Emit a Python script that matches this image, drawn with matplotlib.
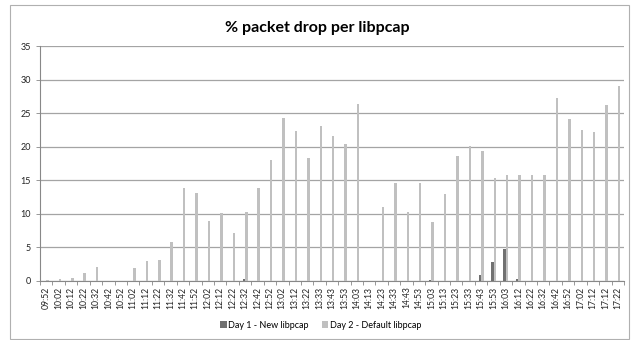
import numpy as np
import matplotlib.pyplot as plt
from matplotlib.patches import Rectangle

plt.rcParams['font.family'] = ['Lato', 'DejaVu Sans']

times = ['09:52', '10:02', '10:12', '10:22', '10:32', '10:42', '10:52', '11:02', '11:12', '11:22',
         '11:32', '11:42', '11:52', '12:02', '12:12', '12:22', '12:32', '12:42', '12:52', '13:02',
         '13:12', '13:22', '13:33', '13:43', '13:53', '14:03', '14:13', '14:23', '14:33', '14:43',
         '14:53', '15:03', '15:13', '15:23', '15:33', '15:43', '15:53', '16:03', '16:12', '16:22',
         '16:32', '16:42', '16:52', '17:02', '17:12', '17:12', '17:22']

day1 = [0.05, 0.05, 0.05, 0.05, 0.05, 0, 0, 0.05, 0.05, 0.05,
        0.05, 0.05, 0.05, 0.05, 0.05, 0.05, 0.25, 0.05, 0.05, 0.05,
        0.05, 0.05, 0.05, 0.05, 0.05, 0.05, 0, 0.05, 0.05, 0.05,
        0.05, 0.1, 0.05, 0.05, 0.05, 0.85, 2.9, 4.7, 0.25, 0.05,
        0.05, 0.05, 0.05, 0.05, 0.05, 0.05, 0.05]

day2 = [0.1, 0.3, 0.4, 1.2, 2.1, 0, 0, 1.9, 3.0, 3.2,
        5.8, 13.9, 13.1, 9.0, 10.2, 7.2, 10.35, 13.9, 18.0, 24.35,
        22.3, 18.3, 23.15, 21.6, 20.4, 26.3, 0, 11.0, 14.65, 10.3,
        14.65, 8.85, 12.95, 18.55, 20.1, 19.4, 15.4, 15.85, 15.85, 15.85,
        15.85, 27.25, 24.1, 22.5, 22.2, 26.2, 29.1]

x = np.arange(len(times))

fig = plt.figure(figsize=(6.35, 3.4), dpi=100)
ax = fig.add_axes([40 / 635, 1 - 281 / 340, 584 / 635, 235 / 340])

ax.bar(x - 0.1, day1, width=0.2, color='#707070', label='Day 1 - New libpcap', zorder=3)
ax.bar(x + 0.1, day2, width=0.2, color='#c0c0c0', label='Day 2 - Default libpcap', zorder=3)

ax.set_xlim(-0.5, len(times) - 0.5)
ax.set_ylim(0, 35)
ax.set_yticks(range(0, 36, 5))
ax.tick_params(axis='y', labelsize=6.5, length=3, color='#888888', labelcolor='#222222', width=0.6)
ax.yaxis.grid(True, color='#a4a4a4', linewidth=0.9, zorder=0)

ax.set_xticks(x)
ax.set_xticklabels(times, rotation=90, fontsize=6.2, color='#222222')
ax.set_xticks(np.arange(-0.5, len(times), 1), minor=True)
ax.tick_params(axis='x', which='major', length=0, pad=4)
ax.tick_params(axis='x', which='minor', length=3, color='#888888', width=0.6)

for s in ['top', 'right']:
    ax.spines[s].set_visible(False)
for s in ['left', 'bottom']:
    ax.spines[s].set_color('#888888')
    ax.spines[s].set_linewidth(0.8)

fig.text(0.5, 1 - 28 / 340, '% packet drop per libpcap', ha='center', va='center',
         fontsize=11.5, fontweight='bold')

fig.legend(loc='center', bbox_to_anchor=(0.505, 1 - 325 / 340), ncol=2, frameon=False,
           fontsize=6.5, handlelength=0.7, handleheight=0.7, handletextpad=0.2,
           columnspacing=1.4)

fig.patches.append(Rectangle((10 / 635, 1 / 340), 619 / 635, 334 / 340, transform=fig.transFigure,
                             fill=False, edgecolor='#b0b0b0', linewidth=0.8))

fig.savefig('out.png', dpi=100)
